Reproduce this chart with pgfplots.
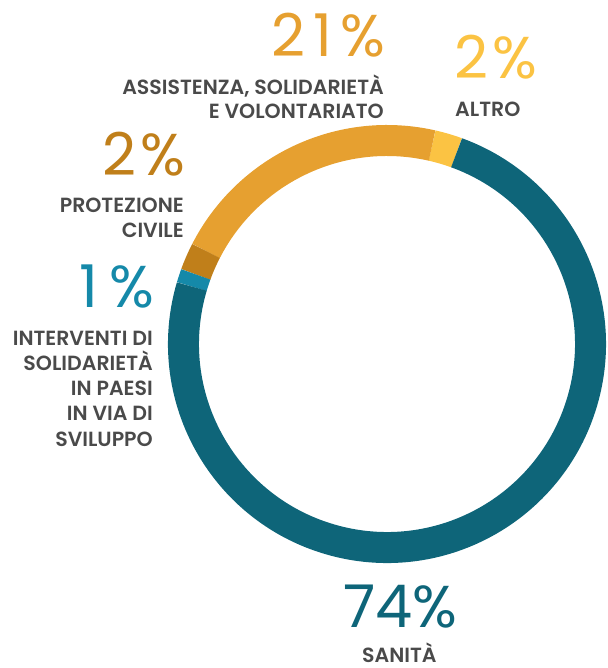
\documentclass[border=0pt]{standalone}
\usepackage{pgfplots}
\usepackage{pgfplotstable}
\pgfplotsset{compat=1.18}
\usepackage{fontspec}
\setmainfont{Poppins}
\newfontfamily\labfont{Poppins}[UprightFont=* SemiBold]
\newfontfamily\numfont{Poppins}

\definecolor{cSanita}{HTML}{0E6579}
\definecolor{cInterv}{HTML}{1589A9}
\definecolor{cProt}{HTML}{C07F1A}
\definecolor{cAssist}{HTML}{E6A030}
\definecolor{cAltro}{HTML}{FBC343}
\definecolor{labgray}{HTML}{4A4A4A}

% share (percent) of each category, in counter-clockwise order from the top-right
\pgfplotstableread{
name value col
Altro 2 cAltro
Assistenza 21 cAssist
Protezione 2 cProt
Interventi 1 cInterv
Sanita 74 cSanita
}\ringdata

\newcommand\setangles{%
  \xdef\cumang{70}%
  \foreach \i in {0,...,4}{%
    \pgfplotstablegetelem{\i}{value}\of\ringdata \let\v\pgfplotsretval
    \pgfplotstablegetelem{\i}{col}\of\ringdata \let\c\pgfplotsretval
    \pgfmathsetmacro\e{\cumang+3.6*\v}%
    \expandafter\xdef\csname sa\i\endcsname{\cumang}%
    \expandafter\xdef\csname ea\i\endcsname{\e}%
    \expandafter\xdef\csname co\i\endcsname{\c}%
    \xdef\cumang{\e}%
  }}
\setangles

\tikzset{
  lab/.style={font=\labfont\fontsize{20.5}{20.5}\selectfont, text=labgray, inner sep=0pt},
  num/.style={font=\numfont\fontsize{59}{59}\selectfont, inner sep=0pt},
}

\begin{document}
\begin{tikzpicture}
\useasboundingbox (0,0) rectangle (607pt,668pt);
\begin{axis}[
  at={(0,0)}, anchor=south west,
  width=607pt, height=668pt, scale only axis,
  xmin=0, xmax=607, ymin=0, ymax=668, y dir=reverse,
  hide axis, clip=false,
]
\pgfplotsinvokeforeach{0,...,4}{
  \draw[line width=31pt, draw=\csname co#1\endcsname]
    (axis cs:387,344) ++(\csname sa#1\endcsname:203.5pt)
    arc[start angle=\csname sa#1\endcsname, end angle=\csname ea#1\endcsname, radius=203.5pt];
}
% Assistenza
\node[num, text=cAssist, anchor=base east] at (axis cs:385,57) {2\kern8pt 1\kern8pt\%};
\node[lab, anchor=base east] at (axis cs:384,95) {ASSISTENZA, SOLIDARIETÀ};
\node[lab, anchor=base east] at (axis cs:384,119) {E VOLONTARIATO};
% Altro
\node[num, text=cAltro, anchor=base west] at (axis cs:454,79) {2\kern4pt\%};
\node[lab, anchor=base west] at (axis cs:455,117) {ALTRO};
% Protezione
\node[num, text=cProt, anchor=base east] at (axis cs:186,176) {2\kern5pt\%};
\node[lab, anchor=base east] at (axis cs:184,212) {PROTEZIONE};
\node[lab, anchor=base east] at (axis cs:184,237) {CIVILE};
% Interventi
\node[num, text=cInterv, anchor=base east] at (axis cs:155,307) {1\kern12pt\%};
\node[lab, anchor=base east] at (axis cs:153,345) {INTERVENTI DI};
\node[lab, anchor=base east] at (axis cs:153,370) {SOLIDARIETÀ};
\node[lab, anchor=base east] at (axis cs:153,395) {IN PAESI};
\node[lab, anchor=base east] at (axis cs:153,420) {IN VIA DI};
\node[lab, anchor=base east] at (axis cs:153,446) {SVILUPPO};
% Sanita
\node[num, text=cSanita, anchor=base west] at (axis cs:343,627) {74\%};
\node[lab, anchor=base west] at (axis cs:362,662) {SANITÀ};
\end{axis}
\end{tikzpicture}
\end{document}
